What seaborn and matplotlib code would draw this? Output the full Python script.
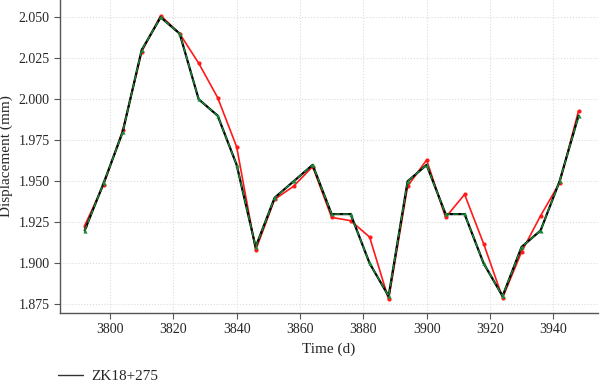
import matplotlib
matplotlib.use("Agg")
import matplotlib.pyplot as plt
import seaborn as sns
import pandas as pd
from matplotlib.lines import Line2D

time_d = [3792, 3798, 3804, 3810, 3816, 3822, 3828, 3834, 3840, 3846, 3852, 3858, 3864,
          3870, 3876, 3882, 3888, 3894, 3900, 3906, 3912, 3918, 3924, 3930, 3936, 3942, 3948]
measured = [1.920, 1.949, 1.980, 2.030, 2.050, 2.040, 2.000, 1.990, 1.960, 1.910, 1.940, 1.950, 1.960,
            1.930, 1.930, 1.900, 1.880, 1.950, 1.960, 1.930, 1.930, 1.900, 1.880, 1.910, 1.920, 1.950, 1.990]
predicted = [1.923, 1.948, 1.981, 2.029, 2.051, 2.040, 2.022, 2.001, 1.971, 1.908, 1.939, 1.947, 1.959,
             1.928, 1.926, 1.916, 1.878, 1.947, 1.963, 1.928, 1.942, 1.912, 1.879, 1.907, 1.929, 1.949, 1.993]
legend_label = "ZK18+275"
y_ticks = [1.875, 1.900, 1.925, 1.950, 1.975, 2.000, 2.025, 2.050]
x_ticks = [3800, 3820, 3840, 3860, 3880, 3900, 3920, 3940]

sns.set_style("ticks")
plt.rcParams["font.family"] = ["Liberation Serif", "DejaVu Serif"]

df = pd.DataFrame({"t": time_d, "m": measured, "p": predicted})

fig = plt.figure(figsize=(6.0, 3.86), dpi=100)
ax = fig.add_axes([0.1, 0.189, 0.897, 0.811])

sns.lineplot(data=df, x="t", y="p", ax=ax, color="#ff1a1a", lw=1.2,
             marker="o", markersize=3, markeredgewidth=0, zorder=3)
sns.lineplot(data=df, x="t", y="m", ax=ax, color="black", lw=1.6, zorder=4)
sns.lineplot(data=df, x="t", y="m", ax=ax, color="#1a8a3a", lw=1.0,
             linestyle=(0, (4, 2)), marker="^", markersize=3, markeredgewidth=0, zorder=5)

ax.set_xlim(3784.2, 3954.2)
ax.set_ylim(1.8697, 2.0605)
ax.set_xticks(x_ticks)
ax.set_yticks(y_ticks)
ax.set_yticklabels([f"{v:.3f}" for v in y_ticks])
ax.grid(True, color="#dcdcdc", linestyle=":", linewidth=0.8)
for s in ["top", "right"]:
    ax.spines[s].set_visible(False)
for s in ["left", "bottom"]:
    ax.spines[s].set_color("#555555")
    ax.spines[s].set_linewidth(1.0)
ax.tick_params(axis="both", labelsize=10, length=4, color="#555555", direction="out")
ax.set_xlabel("Time (d)", fontsize=11)
ax.set_ylabel("Displacement (mm)", fontsize=11)

handle = Line2D([], [], color="#333333", lw=1.0)
fig.legend([handle], [legend_label], loc="center left", bbox_to_anchor=(0.097, 0.025),
           frameon=False, fontsize=11, handlelength=1.6, handletextpad=0.6,
           borderaxespad=0, borderpad=0)

fig.savefig("out.png", dpi=100)
